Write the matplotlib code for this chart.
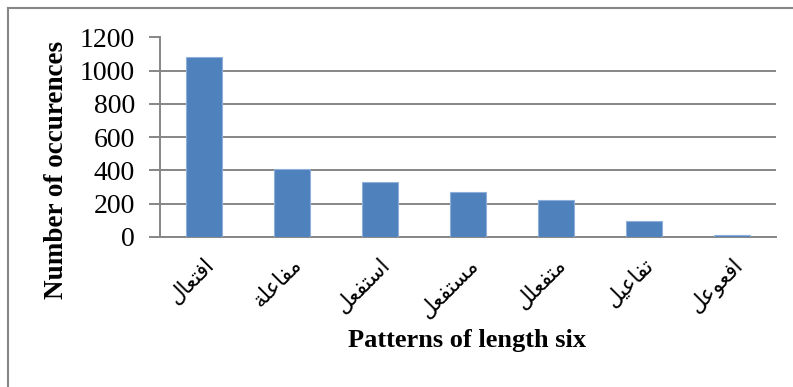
import matplotlib
matplotlib.use("Agg")
import matplotlib.pyplot as plt
from matplotlib.lines import Line2D

# Six-letter Arabic morphological patterns and their counts
patterns = ["افتعال", "مفاعلة", "استفعل", "مستفعل", "متفعلل", "تفاعيل", "افعوعل"]
occurrences = [1080, 408, 328, 271, 223, 93, 8]
y_ticks = [0, 200, 400, 600, 800, 1000, 1200]

# Contextual forms: (isolated, final, initial, medial); None = letter does not join forward
FORMS = {
    "\u0627": ("\uFE8D", "\uFE8E", None, None),
    "\u0629": ("\uFE93", "\uFE94", None, None),
    "\u0648": ("\uFEED", "\uFEEE", None, None),
    "\u062A": ("\uFE95", "\uFE96", "\uFE97", "\uFE98"),
    "\u0633": ("\uFEB1", "\uFEB2", "\uFEB3", "\uFEB4"),
    "\u0639": ("\uFEC9", "\uFECA", "\uFECB", "\uFECC"),
    "\u0641": ("\uFED1", "\uFED2", "\uFED3", "\uFED4"),
    "\u0644": ("\uFEDD", "\uFEDE", "\uFEDF", "\uFEE0"),
    "\u0645": ("\uFEE1", "\uFEE2", "\uFEE3", "\uFEE4"),
    "\u064A": ("\uFEF1", "\uFEF2", "\uFEF3", "\uFEF4"),
}


def joins_forward(ch):
    return ch in FORMS and FORMS[ch][2] is not None


def shape_arabic(word):
    out = []
    for i, ch in enumerate(word):
        if ch not in FORMS:
            out.append(ch)
            continue
        prev_join = i > 0 and joins_forward(word[i - 1])
        next_join = i < len(word) - 1 and joins_forward(ch) and word[i + 1] in FORMS
        iso, fin, ini, med = FORMS[ch]
        if prev_join and next_join:
            out.append(med)
        elif prev_join:
            out.append(fin)
        elif next_join:
            out.append(ini)
        else:
            out.append(iso)
    return "".join(reversed(out))


W, H = 793, 387
fig = plt.figure(figsize=(W / 100, H / 100), dpi=100)
ax = fig.add_axes([160 / W, 1 - 236.7 / H, (776 - 160) / W, (236.7 - 37.5) / H])

x = list(range(len(patterns)))
ax.bar(x, occurrences, width=0.4, color="#4F81BD", edgecolor="#8FB0DA",
       linewidth=0.8, zorder=3)

ax.set_xlim(-0.5, len(patterns) - 0.5)
ax.set_ylim(0, 1200)
ax.set_yticks(y_ticks)
ax.set_yticklabels([str(v) for v in y_ticks], fontfamily="Liberation Serif",
                   fontsize=20)
ax.yaxis.grid(True, color="#868686", linewidth=1.4, zorder=0)
ax.set_axisbelow(True)

ax.set_xticks(x)
ax.set_xticklabels([shape_arabic(p) for p in patterns], rotation=45,
                   ha="right", va="top", rotation_mode="anchor",
                   fontfamily="DejaVu Sans", fontsize=15.5)
ax.tick_params(axis="x", length=0, pad=13)
ax.tick_params(axis="y", length=8, width=1.4, color="#868686", pad=10)

for side in ("top", "right"):
    ax.spines[side].set_visible(False)
for side in ("left", "bottom"):
    ax.spines[side].set_color("#868686")
    ax.spines[side].set_linewidth(1.4)

fig.text(57 / W, 1 - 170 / H, "Number of occurences", rotation=90,
         ha="center", va="center", fontfamily="Liberation Serif",
         fontweight="bold", fontsize=19.5)
fig.text(467 / W, 1 - 341 / H, "Patterns of length six", ha="center",
         va="center", fontfamily="Liberation Serif", fontweight="bold",
         fontsize=19)

# Chart area frame (left and top edges)
fig.add_artist(Line2D([8 / W, 8 / W], [0, 1 - 8 / H], color="#868686",
                      linewidth=1.5, transform=fig.transFigure))
fig.add_artist(Line2D([8 / W, 1], [1 - 8 / H, 1 - 8 / H], color="#868686",
                      linewidth=1.5, transform=fig.transFigure))

fig.savefig("out.png", dpi=100)
